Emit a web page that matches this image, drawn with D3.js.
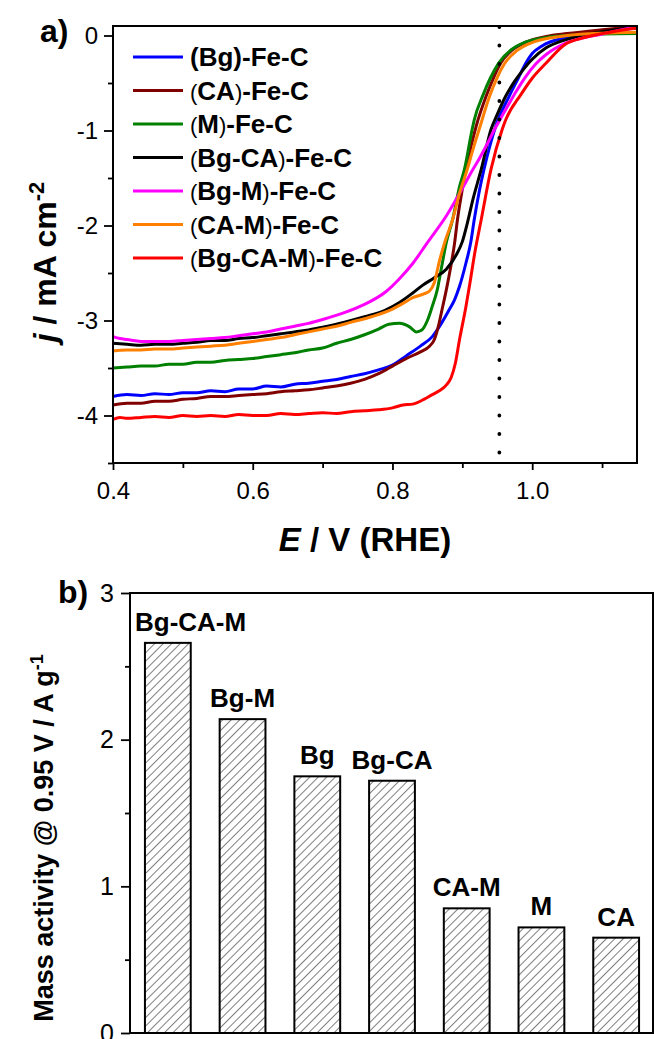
<!DOCTYPE html>
<html>
<head>
<meta charset="utf-8">
<script src="https://cdn.jsdelivr.net/npm/d3@7"></script>
<style>
  body { margin: 0; background: #fff; }
  text { font-family: "Liberation Sans", Arial, sans-serif; }
</style>
</head>
<body>
<svg id="fig" width="654" height="1039"></svg>
<script>
// ---- panel a) LSV curves, [E (V vs RHE), j (mA cm-2)] ----
const bgFeC = [[0.40,-3.80],[0.42,-3.78],[0.44,-3.79],[0.46,-3.77],[0.48,-3.78],[0.50,-3.76],[0.52,-3.76],[0.54,-3.74],[0.56,-3.75],[0.58,-3.72],[0.60,-3.72],[0.62,-3.69],[0.64,-3.70],[0.66,-3.67],[0.68,-3.66],[0.70,-3.64],[0.72,-3.62],[0.74,-3.59],[0.76,-3.56],[0.78,-3.52],[0.80,-3.47],[0.82,-3.37],[0.84,-3.27],[0.857,-3.17],[0.870,-3.03],[0.881,-2.89],[0.889,-2.78],[0.896,-2.64],[0.905,-2.40],[0.912,-2.18],[0.917,-1.94],[0.924,-1.65],[0.931,-1.41],[0.941,-1.12],[0.948,-0.95],[0.967,-0.64],[0.980,-0.45],[0.991,-0.29],[1.000,-0.19],[1.014,-0.11],[1.05,-0.02],[1.10,0.04],[1.15,0.08]];
const caFeC = [[0.40,-3.89],[0.42,-3.87],[0.44,-3.87],[0.46,-3.85],[0.48,-3.85],[0.50,-3.83],[0.52,-3.82],[0.54,-3.80],[0.56,-3.80],[0.58,-3.79],[0.60,-3.78],[0.62,-3.77],[0.64,-3.75],[0.66,-3.74],[0.68,-3.73],[0.70,-3.71],[0.72,-3.69],[0.74,-3.66],[0.76,-3.62],[0.78,-3.56],[0.80,-3.48],[0.82,-3.40],[0.84,-3.33],[0.853,-3.27],[0.860,-3.20],[0.865,-3.08],[0.872,-2.85],[0.877,-2.68],[0.883,-2.45],[0.889,-2.18],[0.893,-1.94],[0.899,-1.66],[0.905,-1.41],[0.913,-1.15],[0.920,-0.95],[0.934,-0.64],[0.945,-0.44],[0.955,-0.29],[0.972,-0.15],[0.991,-0.07],[1.02,-0.01],[1.05,0.02],[1.10,0.06],[1.15,0.095]];
const mFeC = [[0.40,-3.50],[0.42,-3.49],[0.44,-3.48],[0.46,-3.48],[0.48,-3.46],[0.50,-3.46],[0.52,-3.44],[0.54,-3.44],[0.56,-3.42],[0.58,-3.41],[0.60,-3.40],[0.62,-3.38],[0.64,-3.36],[0.66,-3.34],[0.68,-3.31],[0.70,-3.29],[0.72,-3.24],[0.74,-3.20],[0.76,-3.15],[0.78,-3.09],[0.795,-3.04],[0.81,-3.03],[0.825,-3.07],[0.834,-3.12],[0.842,-3.10],[0.850,-3.00],[0.857,-2.85],[0.864,-2.68],[0.870,-2.45],[0.877,-2.18],[0.886,-1.94],[0.896,-1.59],[0.903,-1.41],[0.914,-0.99],[0.917,-0.89],[0.930,-0.62],[0.940,-0.45],[0.952,-0.29],[0.970,-0.15],[0.99,-0.07],[1.02,-0.02],[1.05,0.0],[1.10,0.015],[1.15,0.02]];
const bgCaFeC = [[0.40,-3.24],[0.42,-3.25],[0.44,-3.26],[0.46,-3.25],[0.48,-3.25],[0.50,-3.24],[0.52,-3.23],[0.54,-3.21],[0.56,-3.21],[0.58,-3.19],[0.60,-3.18],[0.62,-3.16],[0.64,-3.14],[0.66,-3.12],[0.68,-3.10],[0.70,-3.07],[0.73,-3.02],[0.76,-2.96],[0.79,-2.89],[0.81,-2.81],[0.829,-2.71],[0.843,-2.63],[0.860,-2.55],[0.877,-2.46],[0.892,-2.30],[0.900,-2.17],[0.907,-1.98],[0.915,-1.73],[0.927,-1.41],[0.941,-0.99],[0.950,-0.83],[0.962,-0.64],[0.975,-0.48],[0.985,-0.38],[1.00,-0.25],[1.02,-0.13],[1.05,-0.04],[1.10,0.04],[1.15,0.09]];
const bgMFeC = [[0.40,-3.17],[0.41,-3.19],[0.42,-3.20],[0.44,-3.22],[0.46,-3.22],[0.48,-3.22],[0.50,-3.21],[0.52,-3.20],[0.54,-3.19],[0.56,-3.18],[0.58,-3.16],[0.60,-3.14],[0.62,-3.12],[0.64,-3.09],[0.66,-3.06],[0.68,-3.03],[0.70,-2.99],[0.73,-2.92],[0.76,-2.83],[0.79,-2.70],[0.81,-2.56],[0.829,-2.40],[0.85,-2.18],[0.877,-1.90],[0.90,-1.61],[0.912,-1.45],[0.924,-1.30],[0.935,-1.15],[0.946,-0.99],[0.955,-0.87],[0.966,-0.73],[0.977,-0.59],[0.99,-0.44],[1.005,-0.30],[1.02,-0.20],[1.048,-0.08],[1.07,-0.03],[1.10,0.015],[1.15,0.095]];
const caMFeC = [[0.40,-3.32],[0.42,-3.31],[0.44,-3.31],[0.46,-3.30],[0.48,-3.30],[0.50,-3.29],[0.52,-3.28],[0.54,-3.27],[0.56,-3.26],[0.58,-3.24],[0.60,-3.22],[0.62,-3.20],[0.64,-3.18],[0.66,-3.15],[0.68,-3.12],[0.70,-3.09],[0.72,-3.06],[0.74,-3.02],[0.77,-2.96],[0.80,-2.88],[0.815,-2.82],[0.829,-2.76],[0.845,-2.72],[0.853,-2.69],[0.860,-2.60],[0.867,-2.38],[0.876,-2.15],[0.886,-1.94],[0.896,-1.66],[0.907,-1.41],[0.916,-1.18],[0.924,-0.99],[0.939,-0.64],[0.950,-0.44],[0.960,-0.30],[0.978,-0.16],[0.998,-0.08],[1.03,-0.02],[1.05,0.0],[1.10,0.025],[1.15,0.035]];
const bgCaMFeC = [[0.40,-4.04],[0.41,-4.02],[0.42,-4.03],[0.44,-4.02],[0.46,-4.01],[0.48,-4.02],[0.50,-4.00],[0.52,-4.01],[0.54,-4.00],[0.56,-4.01],[0.58,-3.99],[0.60,-4.00],[0.62,-4.00],[0.64,-3.98],[0.66,-3.99],[0.68,-3.98],[0.70,-3.97],[0.72,-3.98],[0.74,-3.96],[0.76,-3.95],[0.78,-3.94],[0.80,-3.92],[0.815,-3.89],[0.829,-3.88],[0.845,-3.83],[0.857,-3.78],[0.867,-3.74],[0.877,-3.68],[0.884,-3.60],[0.890,-3.45],[0.896,-3.20],[0.905,-2.86],[0.911,-2.60],[0.918,-2.28],[0.927,-1.94],[0.941,-1.41],[0.957,-0.99],[0.962,-0.89],[0.984,-0.62],[1.00,-0.45],[1.02,-0.29],[1.048,-0.09],[1.07,-0.03],[1.10,0.02],[1.15,0.08]];

const seriesNames = ['(Bg)-Fe-C', '(CA)-Fe-C', '(M)-Fe-C', '(Bg-CA)-Fe-C', '(Bg-M)-Fe-C', '(CA-M)-Fe-C', '(Bg-CA-M)-Fe-C'];
const seriesData = [bgFeC, caFeC, mFeC, bgCaFeC, bgMFeC, caMFeC, bgCaMFeC];
const seriesColors = ['#0000ff', '#800000', '#008000', '#000000', '#ff00ff', '#ff8000', '#ff0000'];

const xMajor = [0.4, 0.6, 0.8, 1.0];
const xMinor = [0.5, 0.7, 0.9, 1.1];
const yMajor = [0, -1, -2, -3, -4];
const yMinor = [-0.5, -1.5, -2.5, -3.5, -4.5];
const refPotential = 0.953;

// ---- panel b) mass activity at 0.95 V ----
const barLabels = ['Bg-CA-M', 'Bg-M', 'Bg', 'Bg-CA', 'CA-M', 'M', 'CA'];
const barValues = [2.66, 2.14, 1.75, 1.72, 0.85, 0.72, 0.65];
const bMajor = [0, 1, 2, 3];
const bMinor = [0.5, 1.5, 2.5];

const svg = d3.select('#fig');

// hatch pattern for bars
svg.append('defs').append('pattern')
  .attr('id', 'hatch')
  .attr('patternUnits', 'userSpaceOnUse')
  .attr('width', 6).attr('height', 6)
  .attr('patternTransform', 'rotate(45)')
  .append('line')
  .attr('x1', 0).attr('y1', 0).attr('x2', 0).attr('y2', 6)
  .attr('stroke', '#000').attr('stroke-width', 1);

function styleAxis(g, fs) {
  g.select('.domain').remove();
  g.selectAll('line').attr('stroke', '#000').attr('stroke-width', 1.8);
  g.selectAll('text').attr('font-size', fs).attr('fill', '#000');
}

// ===== panel a =====
const xA = d3.scaleLinear().domain([0.4, 1.15]).range([113, 637]);
const yA = d3.scaleLinear().domain([-4.5, 0.1]).range([463, 26]);

const gA = svg.append('g');

gA.append('g')
  .attr('transform', `translate(0,${yA(-4.5)})`)
  .call(d3.axisBottom(xA).tickValues(xMajor).tickFormat(d3.format('.1f')).tickSize(7).tickPadding(12))
  .call(g => styleAxis(g, 24));
gA.append('g')
  .attr('transform', `translate(0,${yA(-4.5)})`)
  .call(d3.axisBottom(xA).tickValues(xMinor).tickFormat('').tickSize(5))
  .call(g => styleAxis(g, 24));
gA.append('g')
  .attr('transform', `translate(${xA(0.4)},0)`)
  .call(d3.axisLeft(yA).tickValues(yMajor).tickFormat(d => String(d)).tickSize(9).tickPadding(6))
  .call(g => styleAxis(g, 24));
gA.append('g')
  .attr('transform', `translate(${xA(0.4)},0)`)
  .call(d3.axisLeft(yA).tickValues(yMinor).tickFormat('').tickSize(5))
  .call(g => styleAxis(g, 24));

const line = d3.line()
  .x(d => xA(d[0]))
  .y(d => yA(d[1]))
  .curve(d3.curveMonotoneX);

gA.selectAll('.curve')
  .data(seriesData)
  .enter().append('path')
  .attr('class', 'curve')
  .attr('d', line)
  .attr('fill', 'none')
  .attr('stroke', (d, i) => seriesColors[i])
  .attr('stroke-width', 3)
  .attr('stroke-linejoin', 'round');

// dotted reference line
gA.append('line')
  .attr('x1', xA(refPotential)).attr('x2', xA(refPotential))
  .attr('y1', yA(0.1) + 1).attr('y2', yA(-4.4))
  .attr('stroke', '#000')
  .attr('stroke-width', 3.8)
  .attr('stroke-linecap', 'round')
  .attr('stroke-dasharray', '0 18.5');

gA.append('rect')
  .attr('x', xA(0.4)).attr('y', yA(0.1))
  .attr('width', xA(1.15) - xA(0.4)).attr('height', yA(-4.5) - yA(0.1))
  .attr('fill', 'none').attr('stroke', '#000').attr('stroke-width', 2);

// legend
const legend = gA.selectAll('.leg')
  .data(seriesNames)
  .enter().append('g')
  .attr('class', 'leg')
  .attr('transform', (d, i) => `translate(133,${57 + i * 33.5})`);
legend.append('line')
  .attr('x1', 0).attr('x2', 50)
  .attr('stroke', (d, i) => seriesColors[i])
  .attr('stroke-width', 3);
legend.append('text')
  .attr('x', 57).attr('y', 9)
  .attr('font-size', 26).attr('font-weight', 'bold')
  .each(function (d, i) {
    const t = d3.select(this);
    d.split(/([()])/).filter(s => s).forEach(part => {
      const ts = t.append('tspan').text(part);
      if (i > 0 && (part === '(' || part === ')')) ts.attr('font-weight', 'normal').attr('font-size', 22);
    });
  });

// titles
svg.append('text').attr('x', 40).attr('y', 42)
  .attr('font-size', 32).attr('font-weight', 'bold').text('a)');

const xt = svg.append('text')
  .attr('x', 365).attr('y', 551)
  .attr('text-anchor', 'middle')
  .attr('font-size', 33).attr('font-weight', 'bold');
xt.append('tspan').attr('font-style', 'italic').text('E');
xt.append('tspan').text(' / V (RHE)');

const yt = svg.append('text')
  .attr('transform', 'translate(56,262) rotate(-90)')
  .attr('text-anchor', 'middle')
  .attr('font-size', 32).attr('font-weight', 'bold');
yt.append('tspan').attr('font-style', 'italic').text('j');
yt.append('tspan').text(' / mA cm');
yt.append('tspan').attr('font-size', 22).attr('dy', -12).text('-2');

// ===== panel b =====
const xB = d3.scaleBand().domain(barLabels).range([130, 654]).paddingInner(0.387).paddingOuter(0.2);
const yB = d3.scaleLinear().domain([0, 3]).range([1033, 593]);

const gB = svg.append('g');

gB.append('g')
  .attr('transform', `translate(130,0)`)
  .call(d3.axisLeft(yB).tickValues(bMajor).tickFormat(d => String(d)).tickSize(9).tickPadding(7))
  .call(g => styleAxis(g, 25));
gB.append('g')
  .attr('transform', `translate(130,0)`)
  .call(d3.axisLeft(yB).tickValues(bMinor).tickFormat('').tickSize(5))
  .call(g => styleAxis(g, 25));

gB.selectAll('.bar')
  .data(barValues)
  .enter().append('rect')
  .attr('class', 'bar')
  .attr('x', (d, i) => xB(barLabels[i]))
  .attr('y', d => yB(d))
  .attr('width', xB.bandwidth())
  .attr('height', d => yB(0) - yB(d))
  .attr('fill', 'url(#hatch)')
  .attr('stroke', '#000')
  .attr('stroke-width', 2);

// bar labels, centred above bars but kept clear of the left axis
gB.selectAll('.blabel')
  .data(barValues)
  .enter().append('text')
  .attr('class', 'blabel')
  .attr('y', d => yB(d) - 12)
  .attr('font-size', 26).attr('font-weight', 'bold')
  .text((d, i) => barLabels[i])
  .attr('x', function (d, i) {
    const w = this.getComputedTextLength();
    const cx = xB(barLabels[i]) + xB.bandwidth() / 2;
    return Math.max(135, cx - w / 2);
  });

gB.append('rect')
  .attr('x', 130).attr('y', yB(3))
  .attr('width', 653 - 130).attr('height', yB(0) - yB(3))
  .attr('fill', 'none').attr('stroke', '#000').attr('stroke-width', 2);

svg.append('text').attr('x', 58).attr('y', 603)
  .attr('font-size', 32).attr('font-weight', 'bold').text('b)');

const bt = svg.append('text')
  .attr('transform', 'translate(53,838) rotate(-90)')
  .attr('text-anchor', 'middle')
  .attr('font-size', 27).attr('font-weight', 'bold');
bt.append('tspan').text('Mass activity @ 0.95 V / A g');
bt.append('tspan').attr('font-size', 18).attr('dy', -10).text('-1');
</script>
</body>
</html>
